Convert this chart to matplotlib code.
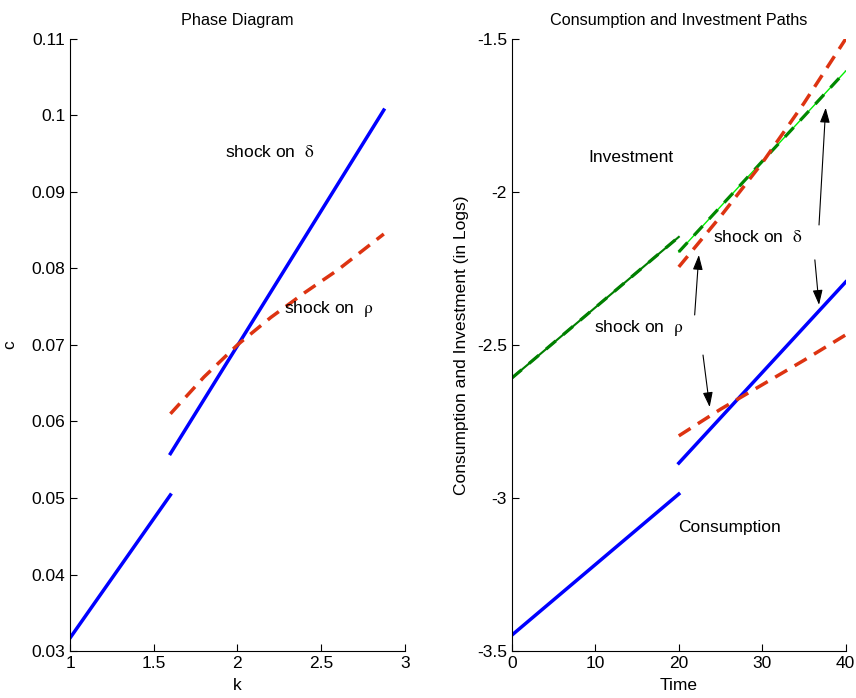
import matplotlib.pyplot as plt

plt.rcParams['font.family'] = ['Liberation Sans', 'DejaVu Sans']
plt.rcParams['mathtext.fontset'] = 'stix'

# phase diagram (k, c)
k_pre = [1.0, 1.6]
c_pre = [0.0317, 0.0504]
k_delta = [1.6, 2.875]
c_delta = [0.0558, 0.1007]
k_rho = [1.6, 1.8, 2.0, 2.2, 2.4, 2.6, 2.875]
c_rho = [0.0610, 0.0658, 0.0700, 0.0736, 0.0768, 0.0798, 0.0845]

# consumption / investment paths (log levels)
t_pre = [0, 20]
t_post = [20, 25, 30, 35, 40]
inv_pre = [-2.608, -2.147]
inv_delta = [-2.196, -2.048, -1.900, -1.753, -1.605]
inv_rho = [-2.245, -2.08, -1.905, -1.71, -1.50]
cons_pre = [-3.448, -2.987]
cons_delta = [-2.886, -2.738, -2.590, -2.442, -2.294]
cons_rho = [-2.797, -2.71, -2.63, -2.55, -2.467]

BLUE = '#0000ff'
RED = '#dd3311'
DKGREEN = '#007f00'
LIME = '#00ee00'


def style(ax):
    ax.spines['top'].set_visible(False)
    ax.spines['right'].set_visible(False)
    ax.tick_params(direction='in', length=5, labelsize=12.5, width=0.8)


fig = plt.figure(figsize=(8.56, 6.98), dpi=100)
ax1 = fig.add_axes([0.0818, 0.0673, 0.391, 0.877])
ax2 = fig.add_axes([0.598, 0.0673, 0.390, 0.877])

# left panel
ax1.plot(k_pre, c_pre, color=BLUE, lw=2.5)
ax1.plot(k_delta, c_delta, color=BLUE, lw=2.5)
ax1.plot(k_rho, c_rho, color=RED, lw=2.5, ls=(0, (4, 2.5)))
ax1.set_xlim(1, 3)
ax1.set_ylim(0.03, 0.11)
ax1.set_xticks([1, 1.5, 2, 2.5, 3])
ax1.set_xticklabels(['1', '1.5', '2', '2.5', '3'])
ax1.set_yticks([0.03, 0.04, 0.05, 0.06, 0.07, 0.08, 0.09, 0.1, 0.11])
ax1.set_yticklabels(['0.03', '0.04', '0.05', '0.06', '0.07', '0.08', '0.09', '0.1', '0.11'])
ax1.set_xlabel('k', fontsize=12.5, labelpad=5)
ax1.set_ylabel('c', fontsize=12.5, labelpad=10)
ax1.set_title('Phase Diagram', fontsize=11.7, pad=10)
ax1.text(1.925, 0.0952, r'shock on  $\mathrm{\delta}$', fontsize=12.5, va='center')
ax1.text(2.278, 0.0747, r'shock on  $\mathrm{\rho}$', fontsize=12.5, va='center')
style(ax1)

# right panel
ax2.plot(t_pre, inv_pre, color=DKGREEN, lw=1.5)
ax2.plot(t_pre, inv_pre, color=DKGREEN, lw=2.3, ls=(0, (4, 3)))
ax2.plot(t_post, inv_delta, color=LIME, lw=1.0)
ax2.plot(t_post, inv_delta, color='#008800', lw=2.3, ls=(0, (4, 3)))
ax2.plot(t_post, inv_rho, color=RED, lw=2.5, ls=(0, (4, 2.5)))
ax2.plot(t_pre, cons_pre, color=BLUE, lw=2.5)
ax2.plot(t_post, cons_delta, color=BLUE, lw=2.5)
ax2.plot(t_post, cons_rho, color=RED, lw=2.5, ls=(0, (4, 2.5)))
ax2.set_xlim(0, 40)
ax2.set_ylim(-3.5, -1.5)
ax2.set_xticks([0, 10, 20, 30, 40])
ax2.set_yticks([-3.5, -3, -2.5, -2, -1.5])
ax2.set_yticklabels(['-3.5', '-3', '-2.5', '-2', '-1.5'])
ax2.set_xlabel('Time', fontsize=12.5, labelpad=5)
ax2.set_ylabel('Consumption and Investment (in Logs)', fontsize=12.5, labelpad=6)
ax2.set_title('Consumption and Investment Paths', fontsize=11.7, pad=10)

ax2.text(9.2, -1.889, 'Investment', fontsize=12.5, va='center')
ax2.text(24.1, -2.147, r'shock on  $\mathrm{\delta}$', fontsize=12.5, va='center')
ax2.text(9.8, -2.444, r'shock on  $\mathrm{\rho}$', fontsize=12.5, va='center')
ax2.text(19.9, -3.098, 'Consumption', fontsize=12.5, va='center')

arrows = [
    ((21.9, -2.402), (22.4, -2.206)),
    ((36.8, -2.108), (37.6, -1.725)),
    ((36.3, -2.222), (36.8, -2.369)),
    ((22.9, -2.533), (23.7, -2.703)),
]
for start, end in arrows:
    ax2.annotate('', xy=end, xytext=start,
                 arrowprops=dict(arrowstyle='-|>,head_length=0.6,head_width=0.2',
                                 color='black', lw=0.8,
                                 mutation_scale=15, shrinkA=0, shrinkB=0))
style(ax2)

fig.savefig('out.png', dpi=100)
